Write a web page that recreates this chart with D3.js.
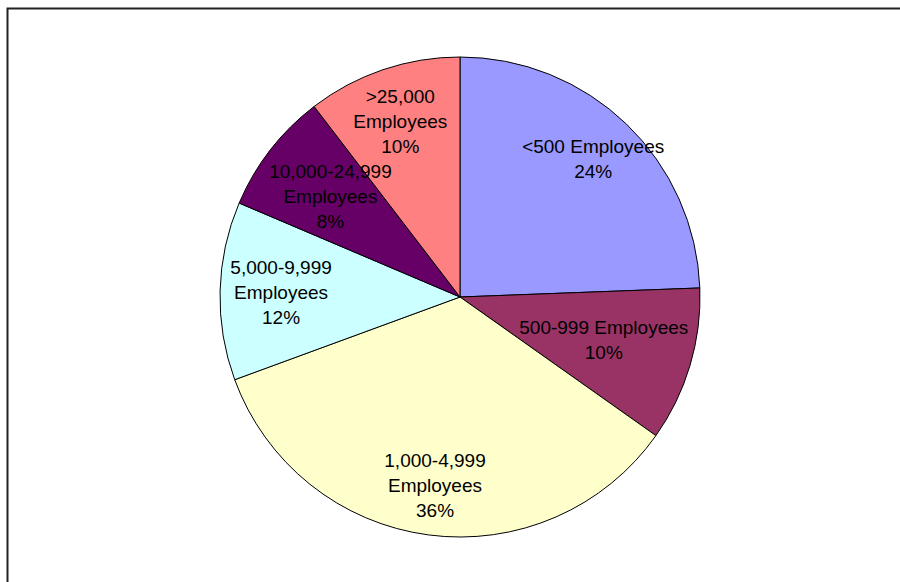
<!DOCTYPE html>
<html>
<head>
<meta charset="utf-8">
<style>
  body { margin: 0; background: #fff; }
  svg { display: block; }
</style>
</head>
<body>
<div id="container"></div>
<script src="https://cdn.jsdelivr.net/npm/d3@7"></script>
<script>

// Slice data, clockwise from 12 o'clock (shares)
const categories = ["<500 Employees", "500-999 Employees", "1,000-4,999 Employees",
                    "5,000-9,999 Employees", "10,000-24,999 Employees", ">25,000 Employees"];
const shares = [24.4, 10.4, 34.6, 12.0, 8.2, 10.4];
const labelLines = [
    ["<500 Employees"],
    ["500-999 Employees"],
    ["1,000-4,999", "Employees"],
    ["5,000-9,999", "Employees"],
    ["10,000-24,999", "Employees"],
    [">25,000", "Employees"]
];
// percentages as printed on the chart
const percentLabels = ["24%", "10%", "36%", "12%", "8%", "10%"];
const colors = ["#9999FF", "#993366", "#FFFFCC", "#CCFFFF", "#660066", "#FF8080"];
// label distance from centre, per slice (Excel nudges them to fit)
const labelRadius = [192, 150, 190, 179, 164, 186];

const width = 900, height = 582;
const cx = 460, cy = 297, radius = 240;
const fontSize = 19, lineH = 25;

const svg = d3.select("#container")
  .append("svg")
  .attr("width", width)
  .attr("height", height);

// outer frame: only top and left edges are visible in the picture
svg.append("path")
    .attr("d", "M7.5,600 V8.5 H920")
    .attr("fill", "none")
    .attr("stroke", "#222")
    .attr("stroke-width", 2);

const pie = d3.pie().sort(null).value(d => d);
const arcs = pie(shares);
const arc = d3.arc().innerRadius(0).outerRadius(radius);

const g = svg.append("g").attr("transform", `translate(${cx},${cy})`);

g.selectAll("path.slice")
    .data(arcs)
    .join("path")
    .attr("class", "slice")
    .attr("d", arc)
    .attr("fill", (d, i) => colors[i])
    .attr("stroke", "#000")
    .attr("stroke-width", 1);

g.selectAll("text.lbl")
    .data(arcs)
    .join("text")
    .attr("class", "lbl")
    .attr("text-anchor", "middle")
    .attr("font-family", "'Liberation Sans', Arial, sans-serif")
    .attr("font-size", fontSize)
    .attr("fill", "#000")
    .each(function(d, i) {
        const mid = (d.startAngle + d.endAngle) / 2;
        const r = labelRadius[i];
        const x = r * Math.sin(mid);
        const y = -r * Math.cos(mid);
        const lines = labelLines[i].concat([percentLabels[i]]);
        const n = lines.length;
        const t = d3.select(this);
        lines.forEach((s, k) => {
            t.append("tspan")
                .attr("x", x)
                .attr("y", y + (k - (n - 1) / 2) * lineH + fontSize * 0.36)
                .text(s);
        });
    });

</script>
</body>
</html>
